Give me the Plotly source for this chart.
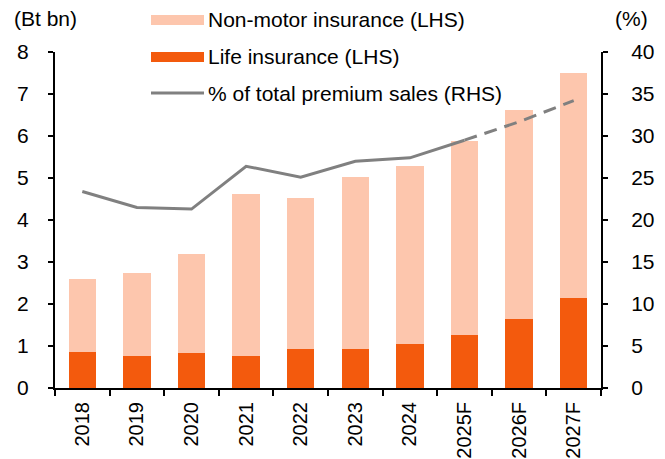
import plotly.graph_objects as go

years = ["2018", "2019", "2020", "2021", "2022", "2023", "2024", "2025F", "2026F", "2027F"]
life = [0.86, 0.77, 0.84, 0.77, 0.92, 0.92, 1.05, 1.26, 1.65, 2.15]
non_motor = [1.73, 1.98, 2.35, 3.84, 3.60, 4.10, 4.24, 4.62, 4.97, 5.35]
pct_share = [23.4, 21.5, 21.3, 26.4, 25.1, 27.0, 27.4, 29.5, 31.7, 34.2]
forecast_start = 7  # index of 2025F

PEACH = "#FDC6AD"
ORANGE = "#F35A0D"
GREY = "#808080"
FONT = "Liberation Sans, Arial, sans-serif"
FS = 21

fig = go.Figure()
fig.add_trace(go.Bar(x=years, y=life, name="Life insurance (LHS)", marker_color=ORANGE,
                     marker_line_width=0, showlegend=False))
fig.add_trace(go.Bar(x=years, y=non_motor, name="Non-motor insurance (LHS)", marker_color=PEACH,
                     marker_line_width=0, showlegend=False))
fig.add_trace(go.Scatter(x=years[:forecast_start + 1], y=pct_share[:forecast_start + 1], yaxis="y2",
                         mode="lines", line=dict(color=GREY, width=3),
                         name="% of total premium sales (RHS)", showlegend=False))
fig.add_trace(go.Scatter(x=years[forecast_start:], y=pct_share[forecast_start:], yaxis="y2",
                         mode="lines", line=dict(color=GREY, width=3, dash="13px,8px"),
                         showlegend=False))

# page has an 8px body margin; figure is sized so the plot area lands at
# window pixels x 55..601, y 52..388
OFF = 8
W, H = 665 - OFF, 459 - OFF
PX0, PX1, PY0, PY1 = 55, 601, 52, 388
L, R, T, B = PX0 - OFF, W - (PX1 - OFF), PY0 - OFF, H - (PY1 - OFF)
pw, ph = PX1 - PX0, PY1 - PY0

def px(x):
    return (x - PX0) / pw

def py(y):
    return (PY1 - y) / ph

shapes = []
annotations = []
legend_rows = [("Non-motor insurance (LHS)", "bar", PEACH, 20),
               ("Life insurance (LHS)", "bar", ORANGE, 57),
               ("% of total premium sales (RHS)", "line", GREY, 93)]
for text, kind, color, yc in legend_rows:
    if kind == "bar":
        shapes.append(dict(type="rect", xref="paper", yref="paper",
                           x0=px(151), x1=px(204), y0=py(yc + 5), y1=py(yc - 5),
                           fillcolor=color, line=dict(width=0)))
    else:
        shapes.append(dict(type="line", xref="paper", yref="paper",
                           x0=px(151), x1=px(204), y0=py(yc), y1=py(yc),
                           line=dict(color=color, width=3)))
    annotations.append(dict(text=text, xref="paper", yref="paper", x=px(206), y=py(yc),
                            xanchor="left", yanchor="middle", showarrow=False,
                            font=dict(size=FS, color="#000", family=FONT)))

annotations.append(dict(text="(Bt bn)", xref="paper", yref="paper", x=px(12), y=py(19),
                        xanchor="left", yanchor="middle", showarrow=False,
                        font=dict(size=FS, color="#000", family=FONT)))
annotations.append(dict(text="(%)", xref="paper", yref="paper", x=px(631), y=py(19),
                        xanchor="center", yanchor="middle", showarrow=False,
                        font=dict(size=FS, color="#000", family=FONT)))

fig.update_layout(
    width=W, height=H,
    margin=dict(l=L, r=R, t=T, b=B, autoexpand=False),
    barmode="stack", bargap=0.5,
    plot_bgcolor="white", paper_bgcolor="white",
    font=dict(family=FONT, size=FS, color="#000"),
    xaxis=dict(type="category", tickangle=-90, showline=True, linecolor="#000", linewidth=2,
               ticks="outside", tickson="boundaries", ticklen=6, tickwidth=2, tickcolor="#000",
               showgrid=False, ticklabelstandoff=4, range=[-0.5, 9.5], automargin=False,
               tickfont=dict(size=20)),
    yaxis=dict(range=[0, 8], dtick=1, showline=True, linecolor="#000", linewidth=2,
               ticks="outside", ticklen=5, tickwidth=2, tickcolor="#000", showgrid=False,
               zeroline=False, ticklabelstandoff=15, automargin=False),
    yaxis2=dict(range=[0, 40], dtick=5, overlaying="y", side="right", showline=True,
                linecolor="#000", linewidth=2, ticks="outside", ticklen=5, tickwidth=2,
                tickcolor="#000", showgrid=False, zeroline=False, ticklabelstandoff=19,
                automargin=False),
    shapes=shapes, annotations=annotations, showlegend=False,
)

fig.write_html("out.html")
